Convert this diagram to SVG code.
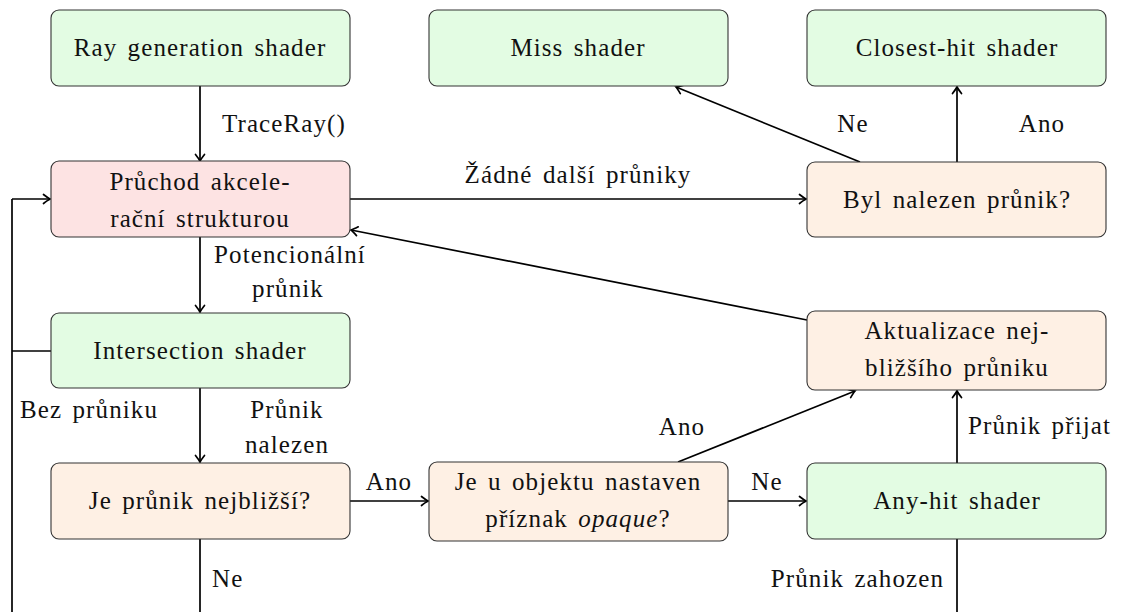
<svg xmlns="http://www.w3.org/2000/svg" width="1121" height="612" viewBox="0 0 1121 612">
<style>
  .node rect { stroke: #333; stroke-width: 1.1; }
  .green { fill: #e3fce3; }
  .pink { fill: #fde3e3; }
  .beige { fill: #fef0e4; }
  text { font-family: "Liberation Serif", "DejaVu Serif", serif; font-size: 25px; fill: #111; letter-spacing: 1.1px; word-spacing: 3px; }
  .c { text-anchor: middle; }
  .e { text-anchor: end; }
  .conn line, .conn polyline { stroke: #000; stroke-width: 1.7; fill: none; }
  .arr { marker-end: url(#ah); }
</style>
<defs>
  <marker id="ah" markerWidth="14" markerHeight="14" refX="11" refY="7" orient="auto" markerUnits="userSpaceOnUse">
    <path d="M4.5,2.5 Q9,6 11,7 Q9,8 4.5,11.5" fill="none" stroke="#000" stroke-width="1.7" stroke-linecap="round"/>
  </marker>
</defs>
<rect width="1121" height="612" fill="#fff"/>

<g id="connectors" class="conn">
  <line class="arr" x1="200" y1="86" x2="200" y2="161"/>
  <line class="arr" x1="350" y1="199" x2="806" y2="199"/>
  <line class="arr" x1="860" y1="162" x2="676" y2="87"/>
  <line class="arr" x1="957" y1="162" x2="957" y2="87"/>
  <line class="arr" x1="200" y1="237" x2="200" y2="312"/>
  <line class="arr" x1="807" y1="320" x2="351" y2="230"/>
  <polyline points="51,351 12,351"/>
  <polyline points="12,612 12,199"/>
  <line class="arr" x1="12" y1="199" x2="50" y2="199"/>
  <line class="arr" x1="200" y1="388" x2="200" y2="462"/>
  <line class="arr" x1="350" y1="501" x2="428" y2="501"/>
  <line class="arr" x1="728" y1="501" x2="806" y2="501"/>
  <line class="arr" x1="678" y1="462" x2="855" y2="391"/>
  <line class="arr" x1="957" y1="463" x2="957" y2="391"/>
  <line x1="200" y1="539" x2="200" y2="612"/>
  <line x1="957" y1="539" x2="957" y2="612"/>
</g>

<g id="labels">
  <text x="222" y="132">TraceRay()</text>
  <text class="c" x="578" y="183">Žádné další průniky</text>
  <text class="c" x="853" y="132">Ne</text>
  <text class="c" x="1042" y="132">Ano</text>
  <text class="c" x="290" y="263">Potencionální</text>
  <text class="c" x="288" y="297">průnik</text>
  <text x="20" y="418">Bez průniku</text>
  <text class="c" x="287" y="418">Průnik</text>
  <text class="c" x="287" y="453">nalezen</text>
  <text class="c" x="389" y="490">Ano</text>
  <text class="c" x="767" y="490">Ne</text>
  <text class="c" x="682" y="435">Ano</text>
  <text x="968" y="434">Průnik přijat</text>
  <text x="212" y="587">Ne</text>
  <text class="e" x="944" y="587">Průnik zahozen</text>
</g>

<g id="raygen" class="node">
  <rect class="green" x="51" y="10" width="299" height="76" rx="8"/>
  <text class="c" x="200" y="56">Ray generation shader</text>
</g>
<g id="miss" class="node">
  <rect class="green" x="429" y="10" width="299" height="76" rx="8"/>
  <text class="c" x="578" y="56">Miss shader</text>
</g>
<g id="closesthit" class="node">
  <rect class="green" x="807" y="10" width="299" height="76" rx="8"/>
  <text class="c" x="957" y="56">Closest-hit shader</text>
</g>
<g id="traversal" class="node">
  <rect class="pink" x="51" y="161" width="299" height="76" rx="8"/>
  <text class="c" x="200" y="190">Průchod akcele-</text>
  <text class="c" x="200" y="227">rační strukturou</text>
</g>
<g id="found" class="node">
  <rect class="beige" x="807" y="162" width="299" height="75" rx="8"/>
  <text class="c" x="957" y="208">Byl nalezen průnik?</text>
</g>
<g id="intersection" class="node">
  <rect class="green" x="51" y="313" width="299" height="75" rx="8"/>
  <text class="c" x="200" y="359">Intersection shader</text>
</g>
<g id="update" class="node">
  <rect class="beige" x="807" y="311" width="299" height="79" rx="8"/>
  <text class="c" x="957" y="339">Aktualizace nej-</text>
  <text class="c" x="957" y="376">bližšího průniku</text>
</g>
<g id="closest" class="node">
  <rect class="beige" x="51" y="463" width="299" height="76" rx="8"/>
  <text class="c" x="200" y="509">Je průnik nejbližší?</text>
</g>
<g id="opaque" class="node">
  <rect class="beige" x="429" y="462" width="299" height="79" rx="8"/>
  <text class="c" x="578" y="490">Je u objektu nastaven</text>
  <text class="c" x="578" y="527">příznak <tspan font-style="italic">opaque</tspan>?</text>
</g>
<g id="anyhit" class="node">
  <rect class="green" x="807" y="463" width="299" height="76" rx="8"/>
  <text class="c" x="957" y="509">Any-hit shader</text>
</g>
</svg>
